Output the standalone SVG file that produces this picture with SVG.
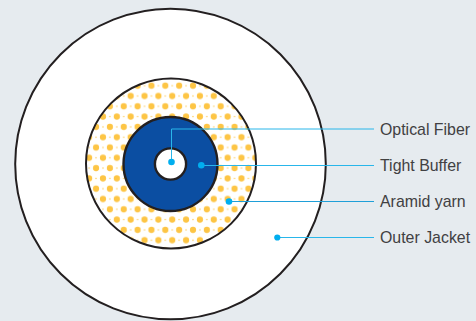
<svg xmlns="http://www.w3.org/2000/svg" width="476" height="321" viewBox="0 0 476 321">
<style>
.ring{stroke:#231f20}
.dot{fill:#00aeef}
.lead{fill:none;stroke:#29b6ea;stroke-width:1}
text{font-family:"Liberation Sans",Arial,sans-serif;font-size:15.9px;fill:#414042}
</style>
<defs>
<pattern id="yarn" patternUnits="userSpaceOnUse" x="165.3" y="85.7" width="13.85" height="20.6">
<circle cx="0" cy="0" r="3.1" fill="#fdc545"/><circle cx="13.85" cy="0" r="3.1" fill="#fdc545"/>
<circle cx="0" cy="20.6" r="3.1" fill="#fdc545"/><circle cx="13.85" cy="20.6" r="3.1" fill="#fdc545"/>
<circle cx="6.93" cy="10.3" r="3.1" fill="#fdc545"/>
<circle cx="6.93" cy="0" r="0.7" fill="#fdc545"/><circle cx="6.93" cy="20.6" r="0.7" fill="#fdc545"/>
<circle cx="0" cy="10.3" r="0.7" fill="#fdc545"/><circle cx="13.85" cy="10.3" r="0.7" fill="#fdc545"/>
</pattern>
</defs>
<rect width="476" height="321" fill="#e6ebef"/>
<g id="outer-jacket"><circle class="ring" cx="170.5" cy="164" r="155.3" fill="#fff" stroke-width="2"/></g>
<g id="aramid-yarn"><circle class="ring" cx="171" cy="163.5" r="85" fill="url(#yarn)" stroke-width="2"/></g>
<g id="tight-buffer"><circle class="ring" cx="170.5" cy="164" r="47" fill="#0b4ea2" stroke-width="2.4"/></g>
<g id="optical-fiber"><circle class="ring" cx="170.5" cy="164" r="15.6" fill="#fff" stroke-width="2.4"/></g>
<g id="connectors">
<path class="lead" d="M171.5 162V129H374"/>
<path class="lead" d="M201 165.5H374"/>
<path class="lead" d="M229 201.5H374" style="stroke:#1f9fd8"/>
<path class="lead" d="M277 237.5H374"/>
<circle class="dot" cx="171.5" cy="162" r="3.3"/>
<circle class="dot" cx="201.3" cy="165.3" r="3.3"/>
<circle class="dot" cx="229" cy="201.5" r="3.3"/>
<circle class="dot" cx="277.3" cy="237.5" r="3.1"/>
</g>
<g id="labels">
<text x="380" y="135">Optical Fiber</text>
<text x="380" y="171">Tight Buffer</text>
<text x="380" y="207">Aramid yarn</text>
<text x="380" y="243">Outer Jacket</text>
</g>
</svg>
